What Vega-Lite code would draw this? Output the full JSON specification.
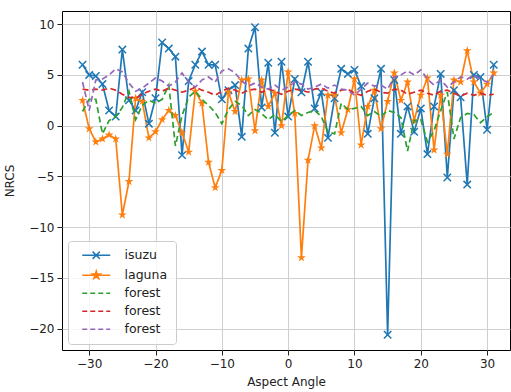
{
  "$schema": "https://vega.github.io/schema/vega-lite/v6.json",
  "width": 448,
  "height": 339,
  "autosize": "none",
  "padding": {"left": 62, "top": 11, "right": 1, "bottom": 42},
  "background": "white",
  "config": {
    "view": {"stroke": "#000000", "strokeWidth": 1},
    "font": "DejaVu Sans",
    "axis": {
      "domain": false,
      "grid": true,
      "gridColor": "#cfcfcf",
      "gridWidth": 1,
      "tickColor": "#222222",
      "tickSize": 5,
      "labelFont": "DejaVu Sans",
      "labelFontSize": 12,
      "labelColor": "#222222",
      "labelPadding": 3,
      "titleFont": "DejaVu Sans",
      "titleFontSize": 12,
      "titleFontWeight": "normal",
      "titleColor": "#222222"
    }
  },
  "data": {"values": [
    {"s":"isuzu","x":-31,"y":6.0},{"s":"isuzu","x":-30,"y":5.0},{"s":"isuzu","x":-29,"y":4.9},{"s":"isuzu","x":-28,"y":4.1},{"s":"isuzu","x":-27,"y":1.5},{"s":"isuzu","x":-26,"y":0.9},{"s":"isuzu","x":-25,"y":7.5},{"s":"isuzu","x":-24,"y":2.5},{"s":"isuzu","x":-23,"y":1.5},{"s":"isuzu","x":-22,"y":3.3},{"s":"isuzu","x":-21,"y":0.2},{"s":"isuzu","x":-20,"y":2.7},{"s":"isuzu","x":-19,"y":8.2},{"s":"isuzu","x":-18,"y":7.6},{"s":"isuzu","x":-17,"y":6.8},{"s":"isuzu","x":-16,"y":-2.9},{"s":"isuzu","x":-15,"y":4.4},{"s":"isuzu","x":-14,"y":6.0},{"s":"isuzu","x":-13,"y":7.3},{"s":"isuzu","x":-12,"y":6.0},{"s":"isuzu","x":-11,"y":6.0},{"s":"isuzu","x":-10,"y":2.6},{"s":"isuzu","x":-9,"y":3.5},{"s":"isuzu","x":-8,"y":4.0},{"s":"isuzu","x":-7,"y":-1.1},{"s":"isuzu","x":-6,"y":7.6},{"s":"isuzu","x":-5,"y":9.7},{"s":"isuzu","x":-4,"y":1.8},{"s":"isuzu","x":-3,"y":6.2},{"s":"isuzu","x":-2,"y":-0.7},{"s":"isuzu","x":-1,"y":6.3},{"s":"isuzu","x":0,"y":0.9},{"s":"isuzu","x":1,"y":4.6},{"s":"isuzu","x":2,"y":3.3},{"s":"isuzu","x":3,"y":6.3},{"s":"isuzu","x":4,"y":1.7},{"s":"isuzu","x":5,"y":3.3},{"s":"isuzu","x":6,"y":-1.2},{"s":"isuzu","x":7,"y":2.7},{"s":"isuzu","x":8,"y":5.6},{"s":"isuzu","x":9,"y":5.1},{"s":"isuzu","x":10,"y":5.5},{"s":"isuzu","x":11,"y":3.9},{"s":"isuzu","x":12,"y":-0.8},{"s":"isuzu","x":13,"y":2.7},{"s":"isuzu","x":14,"y":5.6},{"s":"isuzu","x":15,"y":-20.6},{"s":"isuzu","x":16,"y":4.5},{"s":"isuzu","x":17,"y":-0.8},{"s":"isuzu","x":18,"y":1.9},{"s":"isuzu","x":19,"y":-0.6},{"s":"isuzu","x":20,"y":1.7},{"s":"isuzu","x":21,"y":-2.8},{"s":"isuzu","x":22,"y":1.9},{"s":"isuzu","x":23,"y":5.1},{"s":"isuzu","x":24,"y":-5.1},{"s":"isuzu","x":25,"y":3.5},{"s":"isuzu","x":26,"y":2.8},{"s":"isuzu","x":27,"y":-5.8},{"s":"isuzu","x":28,"y":5.0},{"s":"isuzu","x":29,"y":4.8},{"s":"isuzu","x":30,"y":-0.4},{"s":"isuzu","x":31,"y":6.0},
    {"s":"laguna","x":-31,"y":2.5},{"s":"laguna","x":-30,"y":-0.3},{"s":"laguna","x":-29,"y":-1.6},{"s":"laguna","x":-28,"y":-1.3},{"s":"laguna","x":-27,"y":-0.9},{"s":"laguna","x":-26,"y":-1.3},{"s":"laguna","x":-25,"y":-8.8},{"s":"laguna","x":-24,"y":-5.5},{"s":"laguna","x":-23,"y":2.7},{"s":"laguna","x":-22,"y":2.4},{"s":"laguna","x":-21,"y":-1.2},{"s":"laguna","x":-20,"y":-0.6},{"s":"laguna","x":-19,"y":0.6},{"s":"laguna","x":-18,"y":1.5},{"s":"laguna","x":-17,"y":1.0},{"s":"laguna","x":-16,"y":-0.7},{"s":"laguna","x":-15,"y":-2.6},{"s":"laguna","x":-14,"y":3.4},{"s":"laguna","x":-13,"y":2.2},{"s":"laguna","x":-12,"y":-3.6},{"s":"laguna","x":-11,"y":-6.1},{"s":"laguna","x":-10,"y":-4.4},{"s":"laguna","x":-9,"y":3.3},{"s":"laguna","x":-8,"y":1.4},{"s":"laguna","x":-7,"y":4.5},{"s":"laguna","x":-6,"y":4.6},{"s":"laguna","x":-5,"y":-0.5},{"s":"laguna","x":-4,"y":4.5},{"s":"laguna","x":-3,"y":1.9},{"s":"laguna","x":-2,"y":3.2},{"s":"laguna","x":-1,"y":0.0},{"s":"laguna","x":0,"y":5.3},{"s":"laguna","x":1,"y":1.2},{"s":"laguna","x":2,"y":-13.0},{"s":"laguna","x":3,"y":-3.4},{"s":"laguna","x":4,"y":0.0},{"s":"laguna","x":5,"y":-2.2},{"s":"laguna","x":6,"y":3.0},{"s":"laguna","x":7,"y":3.0},{"s":"laguna","x":8,"y":-0.7},{"s":"laguna","x":9,"y":1.6},{"s":"laguna","x":10,"y":4.6},{"s":"laguna","x":11,"y":-1.9},{"s":"laguna","x":12,"y":1.9},{"s":"laguna","x":13,"y":3.5},{"s":"laguna","x":14,"y":-0.3},{"s":"laguna","x":15,"y":2.4},{"s":"laguna","x":16,"y":5.2},{"s":"laguna","x":17,"y":2.5},{"s":"laguna","x":18,"y":4.3},{"s":"laguna","x":19,"y":0.5},{"s":"laguna","x":20,"y":3.0},{"s":"laguna","x":21,"y":4.7},{"s":"laguna","x":22,"y":-2.4},{"s":"laguna","x":23,"y":3.0},{"s":"laguna","x":24,"y":-2.8},{"s":"laguna","x":25,"y":4.5},{"s":"laguna","x":26,"y":4.3},{"s":"laguna","x":27,"y":7.4},{"s":"laguna","x":28,"y":4.3},{"s":"laguna","x":29,"y":3.2},{"s":"laguna","x":30,"y":4.1},{"s":"laguna","x":31,"y":5.2},
    {"s":"forest1","x":-31,"y":1.4},{"s":"forest1","x":-30,"y":2.6},{"s":"forest1","x":-29,"y":2.6},{"s":"forest1","x":-28,"y":-0.8},{"s":"forest1","x":-27,"y":0.5},{"s":"forest1","x":-26,"y":0.9},{"s":"forest1","x":-25,"y":1.8},{"s":"forest1","x":-24,"y":3.4},{"s":"forest1","x":-23,"y":0.6},{"s":"forest1","x":-22,"y":2.0},{"s":"forest1","x":-21,"y":2.5},{"s":"forest1","x":-20,"y":2.2},{"s":"forest1","x":-19,"y":2.6},{"s":"forest1","x":-18,"y":4.0},{"s":"forest1","x":-17,"y":-2.0},{"s":"forest1","x":-16,"y":1.0},{"s":"forest1","x":-15,"y":2.8},{"s":"forest1","x":-14,"y":3.4},{"s":"forest1","x":-13,"y":2.6},{"s":"forest1","x":-12,"y":2.0},{"s":"forest1","x":-11,"y":1.3},{"s":"forest1","x":-10,"y":0.2},{"s":"forest1","x":-9,"y":1.6},{"s":"forest1","x":-8,"y":2.4},{"s":"forest1","x":-7,"y":2.0},{"s":"forest1","x":-6,"y":1.0},{"s":"forest1","x":-5,"y":1.6},{"s":"forest1","x":-4,"y":1.2},{"s":"forest1","x":-3,"y":0.6},{"s":"forest1","x":-2,"y":1.1},{"s":"forest1","x":-1,"y":0.4},{"s":"forest1","x":0,"y":1.0},{"s":"forest1","x":1,"y":1.5},{"s":"forest1","x":2,"y":1.0},{"s":"forest1","x":3,"y":1.3},{"s":"forest1","x":4,"y":1.5},{"s":"forest1","x":5,"y":0.9},{"s":"forest1","x":6,"y":-0.6},{"s":"forest1","x":7,"y":-0.8},{"s":"forest1","x":8,"y":2.2},{"s":"forest1","x":9,"y":1.6},{"s":"forest1","x":10,"y":1.7},{"s":"forest1","x":11,"y":1.9},{"s":"forest1","x":12,"y":1.0},{"s":"forest1","x":13,"y":1.4},{"s":"forest1","x":14,"y":0.9},{"s":"forest1","x":15,"y":1.5},{"s":"forest1","x":16,"y":1.3},{"s":"forest1","x":17,"y":0.8},{"s":"forest1","x":18,"y":-2.5},{"s":"forest1","x":19,"y":0.5},{"s":"forest1","x":20,"y":0.6},{"s":"forest1","x":21,"y":-1.6},{"s":"forest1","x":22,"y":-0.5},{"s":"forest1","x":23,"y":1.5},{"s":"forest1","x":24,"y":3.3},{"s":"forest1","x":25,"y":-1.3},{"s":"forest1","x":26,"y":0.8},{"s":"forest1","x":27,"y":1.2},{"s":"forest1","x":28,"y":1.1},{"s":"forest1","x":29,"y":0.3},{"s":"forest1","x":30,"y":0.9},{"s":"forest1","x":31,"y":1.3},
    {"s":"forest2","x":-31,"y":3.6},{"s":"forest2","x":-30,"y":3.5},{"s":"forest2","x":-29,"y":3.6},{"s":"forest2","x":-28,"y":3.5},{"s":"forest2","x":-27,"y":3.7},{"s":"forest2","x":-26,"y":3.5},{"s":"forest2","x":-25,"y":3.1},{"s":"forest2","x":-24,"y":2.8},{"s":"forest2","x":-23,"y":2.7},{"s":"forest2","x":-22,"y":3.1},{"s":"forest2","x":-21,"y":3.4},{"s":"forest2","x":-20,"y":3.6},{"s":"forest2","x":-19,"y":3.4},{"s":"forest2","x":-18,"y":3.7},{"s":"forest2","x":-17,"y":3.5},{"s":"forest2","x":-16,"y":3.3},{"s":"forest2","x":-15,"y":3.5},{"s":"forest2","x":-14,"y":3.8},{"s":"forest2","x":-13,"y":3.5},{"s":"forest2","x":-12,"y":3.3},{"s":"forest2","x":-11,"y":3.0},{"s":"forest2","x":-10,"y":3.4},{"s":"forest2","x":-9,"y":3.7},{"s":"forest2","x":-8,"y":3.5},{"s":"forest2","x":-7,"y":3.2},{"s":"forest2","x":-6,"y":3.5},{"s":"forest2","x":-5,"y":3.6},{"s":"forest2","x":-4,"y":3.3},{"s":"forest2","x":-3,"y":3.6},{"s":"forest2","x":-2,"y":3.4},{"s":"forest2","x":-1,"y":3.1},{"s":"forest2","x":0,"y":3.4},{"s":"forest2","x":1,"y":3.6},{"s":"forest2","x":2,"y":3.5},{"s":"forest2","x":3,"y":3.3},{"s":"forest2","x":4,"y":3.6},{"s":"forest2","x":5,"y":3.7},{"s":"forest2","x":6,"y":3.4},{"s":"forest2","x":7,"y":3.2},{"s":"forest2","x":8,"y":3.5},{"s":"forest2","x":9,"y":3.6},{"s":"forest2","x":10,"y":3.2},{"s":"forest2","x":11,"y":3.0},{"s":"forest2","x":12,"y":3.4},{"s":"forest2","x":13,"y":3.6},{"s":"forest2","x":14,"y":3.3},{"s":"forest2","x":15,"y":3.2},{"s":"forest2","x":16,"y":3.6},{"s":"forest2","x":17,"y":3.5},{"s":"forest2","x":18,"y":3.1},{"s":"forest2","x":19,"y":3.3},{"s":"forest2","x":20,"y":3.5},{"s":"forest2","x":21,"y":3.2},{"s":"forest2","x":22,"y":3.0},{"s":"forest2","x":23,"y":3.4},{"s":"forest2","x":24,"y":3.5},{"s":"forest2","x":25,"y":3.2},{"s":"forest2","x":26,"y":2.9},{"s":"forest2","x":27,"y":3.2},{"s":"forest2","x":28,"y":3.0},{"s":"forest2","x":29,"y":3.2},{"s":"forest2","x":30,"y":3.0},{"s":"forest2","x":31,"y":3.1},
    {"s":"forest3","x":-31,"y":4.3},{"s":"forest3","x":-30,"y":1.5},{"s":"forest3","x":-29,"y":4.5},{"s":"forest3","x":-28,"y":4.6},{"s":"forest3","x":-27,"y":5.0},{"s":"forest3","x":-26,"y":5.6},{"s":"forest3","x":-25,"y":5.3},{"s":"forest3","x":-24,"y":4.2},{"s":"forest3","x":-23,"y":3.4},{"s":"forest3","x":-22,"y":3.7},{"s":"forest3","x":-21,"y":4.2},{"s":"forest3","x":-20,"y":4.7},{"s":"forest3","x":-19,"y":4.4},{"s":"forest3","x":-18,"y":3.9},{"s":"forest3","x":-17,"y":4.3},{"s":"forest3","x":-16,"y":5.2},{"s":"forest3","x":-15,"y":4.3},{"s":"forest3","x":-14,"y":3.8},{"s":"forest3","x":-13,"y":4.5},{"s":"forest3","x":-12,"y":4.8},{"s":"forest3","x":-11,"y":4.3},{"s":"forest3","x":-10,"y":5.4},{"s":"forest3","x":-9,"y":5.6},{"s":"forest3","x":-8,"y":5.2},{"s":"forest3","x":-7,"y":4.4},{"s":"forest3","x":-6,"y":3.9},{"s":"forest3","x":-5,"y":4.2},{"s":"forest3","x":-4,"y":3.8},{"s":"forest3","x":-3,"y":3.6},{"s":"forest3","x":-2,"y":4.0},{"s":"forest3","x":-1,"y":3.5},{"s":"forest3","x":0,"y":3.8},{"s":"forest3","x":1,"y":4.3},{"s":"forest3","x":2,"y":4.1},{"s":"forest3","x":3,"y":3.6},{"s":"forest3","x":4,"y":3.8},{"s":"forest3","x":5,"y":4.1},{"s":"forest3","x":6,"y":3.7},{"s":"forest3","x":7,"y":4.0},{"s":"forest3","x":8,"y":3.6},{"s":"forest3","x":9,"y":3.5},{"s":"forest3","x":10,"y":3.0},{"s":"forest3","x":11,"y":3.6},{"s":"forest3","x":12,"y":4.2},{"s":"forest3","x":13,"y":3.9},{"s":"forest3","x":14,"y":4.0},{"s":"forest3","x":15,"y":3.6},{"s":"forest3","x":16,"y":4.8},{"s":"forest3","x":17,"y":5.0},{"s":"forest3","x":18,"y":5.4},{"s":"forest3","x":19,"y":5.0},{"s":"forest3","x":20,"y":5.5},{"s":"forest3","x":21,"y":4.6},{"s":"forest3","x":22,"y":4.0},{"s":"forest3","x":23,"y":4.5},{"s":"forest3","x":24,"y":3.8},{"s":"forest3","x":25,"y":4.3},{"s":"forest3","x":26,"y":4.8},{"s":"forest3","x":27,"y":4.6},{"s":"forest3","x":28,"y":5.0},{"s":"forest3","x":29,"y":4.6},{"s":"forest3","x":30,"y":4.3},{"s":"forest3","x":31,"y":5.0}
  ]},
  "encoding": {
    "x": {"field": "x", "type": "quantitative",
      "scale": {"domain": [-34.1, 33.45], "nice": false, "zero": false},
      "axis": {"values": [-30, -20, -10, 0, 10, 20, 30], "title": "Aspect Angle", "titlePadding": 7,
        "labelExpr": "replace(format(datum.value, 'd'), '-', '\u2212')"}},
    "y": {"field": "y", "type": "quantitative",
      "scale": {"domain": [-22.1, 11.3], "nice": false, "zero": false},
      "axis": {"values": [-20, -15, -10, -5, 0, 5, 10], "title": "NRCS", "titlePadding": 12,
        "labelExpr": "replace(format(datum.value, 'd'), '-', '\u2212')"}},
    "color": {"field": "s", "type": "nominal",
      "scale": {"domain": ["isuzu", "laguna", "forest1", "forest2", "forest3"],
                "range": ["#1f77b4", "#ff7f0e", "#2ca02c", "#d62728", "#9467bd"]},
      "legend": {
        "title": null,
        "orient": "bottom-left",
        "offset": 6,
        "padding": 8,
        "fillColor": "rgba(255,255,255,0.8)",
        "strokeColor": "#cccccc",
        "cornerRadius": 3,
        "labelFont": "DejaVu Sans",
        "labelFontSize": 12.5,
        "labelColor": "#222222",
        "symbolSize": 64,
        "symbolOffset": 14,
        "labelOffset": 22,
        "rowPadding": 5,
        "labelExpr": "indexof(datum.label, 'forest') == 0 ? 'forest' : datum.label",
        "encode": {
          "symbols": {
            "update": {
              "shape": {"signal": "datum.value == 'isuzu' ? 'M-3.5,0H3.5M-0.9,-0.9L0.9,0.9M-0.9,0.9L0.9,-0.9' : datum.value == 'laguna' ? 'M-3.5,0H3.5M0,-1L0.22,-0.31L0.95,-0.31L0.36,0.12L0.59,0.81L0,0.38L-0.59,0.81L-0.36,0.12L-0.95,-0.31L-0.22,-0.31Z' : 'M-3.5,0H3.5'"},
              "stroke": {"signal": "datum.value == 'isuzu' ? '#1f77b4' : datum.value == 'laguna' ? '#ff7f0e' : datum.value == 'forest1' ? '#2ca02c' : datum.value == 'forest2' ? '#d62728' : '#9467bd'"},
              "fill": {"signal": "datum.value == 'laguna' ? '#ff7f0e' : 'transparent'"},
              "strokeDash": {"signal": "indexof(datum.value, 'forest') == 0 ? [5, 3] : [1, 0]"},
              "strokeWidth": {"value": 1.6},
              "opacity": {"value": 1}
            }
          }
        }
      }
    }
  },
  "layer": [
    {
      "transform": [{"filter": "datum.s == 'isuzu' || datum.s == 'laguna'"}],
      "mark": {"type": "line", "strokeWidth": 1.7}
    },
    {
      "transform": [{"filter": "datum.s == 'isuzu'"}],
      "mark": {"type": "point", "shape": "M-1,-1L1,1M-1,1L1,-1", "size": 55, "filled": false, "strokeWidth": 1.5, "opacity": 1}
    },
    {
      "transform": [{"filter": "datum.s == 'laguna'"}],
      "mark": {"type": "point", "shape": "M0,-1L0.22,-0.31L0.95,-0.31L0.36,0.12L0.59,0.81L0,0.38L-0.59,0.81L-0.36,0.12L-0.95,-0.31L-0.22,-0.31Z", "size": 85, "filled": true, "opacity": 1}
    },
    {
      "transform": [{"filter": "indexof(datum.s, 'forest') == 0"}],
      "mark": {"type": "line", "strokeWidth": 1.7, "strokeDash": [6, 3.5]}
    }
  ]
}
